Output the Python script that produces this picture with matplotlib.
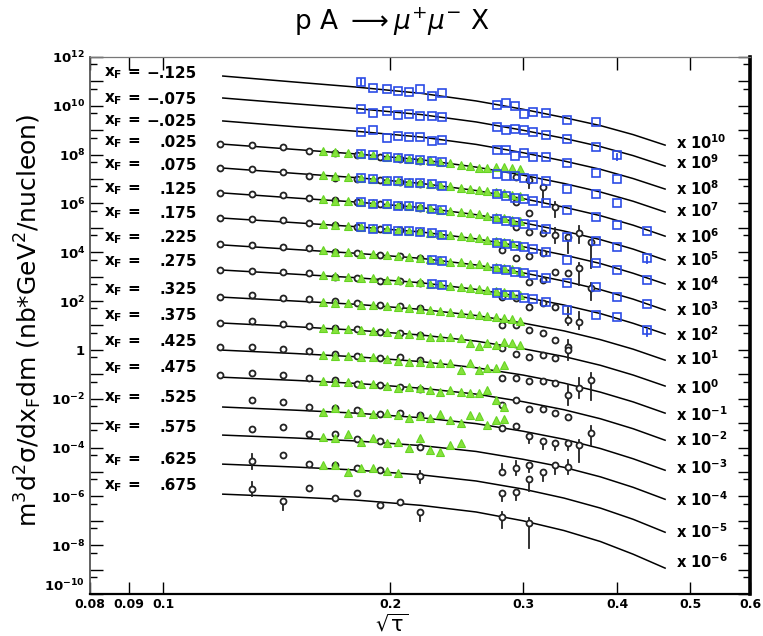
import matplotlib
matplotlib.use("Agg")
import matplotlib.pyplot as plt
import numpy as np
from matplotlib.ticker import FixedLocator, FuncFormatter, NullFormatter

plt.rcParams["font.family"] = ["DejaVu Sans"]
plt.rcParams["mathtext.default"] = "regular"

N = None

# x_F rows, top to bottom; each row is drawn multiplied by 10**scale_exp
xf_values = ["\u2212.125", "\u2212.075", "\u2212.025", ".025", ".075", ".125", ".175",
             ".225", ".275", ".325", ".375", ".425", ".475", ".525", ".575", ".625", ".675"]
scale_exp = [10, 9, 8, 7, 6, 5, 4, 3, 2, 1, 0, -1, -2, -3, -4, -5, -6]

# fitted curves: log10 of m^3 d2sigma/dxF dm (unscaled) at sqrt(tau) = fit_x
fit_x = [0.12, 0.15, 0.18, 0.22, 0.26, 0.30, 0.34, 0.38, 0.42, 0.463]
fit_log = [
    [1.22, 0.97, 0.77, 0.51, 0.20, -0.14, -0.48, -0.81, -1.18, -1.61],
    [1.32, 1.08, 0.89, 0.64, 0.34, 0.00, -0.33, -0.67, -1.04, -1.47],
    [1.38, 1.14, 0.96, 0.72, 0.42, 0.08, -0.26, -0.60, -0.98, -1.41],
    [1.43, 1.21, 1.03, 0.79, 0.49, 0.16, -0.18, -0.53, -0.91, -1.35],
    [1.45, 1.23, 1.06, 0.82, 0.53, 0.20, -0.15, -0.50, -0.89, -1.34],
    [1.43, 1.22, 1.06, 0.83, 0.54, 0.21, -0.13, -0.48, -0.87, -1.32],
    [1.40, 1.21, 1.05, 0.83, 0.55, 0.23, -0.11, -0.46, -0.86, -1.30],
    [1.30, 1.11, 0.96, 0.75, 0.48, 0.16, -0.18, -0.53, -0.92, -1.37],
    [1.27, 1.10, 0.96, 0.75, 0.48, 0.17, -0.16, -0.51, -0.91, -1.35],
    [1.16, 1.00, 0.87, 0.66, 0.41, 0.10, -0.22, -0.58, -0.97, -1.42],
    [1.10, 0.95, 0.81, 0.61, 0.36, 0.05, -0.27, -0.63, -1.03, -1.48],
    [0.99, 0.85, 0.72, 0.52, 0.27, -0.03, -0.36, -0.73, -1.13, -1.59],
    [0.88, 0.75, 0.63, 0.43, 0.19, -0.12, -0.45, -0.82, -1.23, -1.70],
    [0.66, 0.53, 0.41, 0.22, -0.02, -0.33, -0.66, -1.04, -1.46, -1.93],
    [0.51, 0.39, 0.27, 0.08, -0.16, -0.48, -0.81, -1.20, -1.63, -2.12],
    [0.32, 0.20, 0.08, -0.12, -0.37, -0.70, -1.07, -1.48, -1.94, -2.47],
    [0.09, -0.03, -0.15, -0.37, -0.64, -1.00, -1.40, -1.85, -2.37, -2.94],
]

# blue open squares, rows 0..8
blue_x = [0.183, 0.190, 0.198, 0.205, 0.212, 0.219, 0.227, 0.234, 0.277, 0.285,
          0.293, 0.301, 0.309, 0.322, 0.343, 0.375, 0.400, 0.438]
blue_log = [
    [0.96, 0.74, 0.69, 0.62, 0.55, 0.68, 0.41, 0.51, 0.03, 0.10, -0.01, -0.35, -0.27, -0.28, -0.58, -0.65, N, N],
    [0.85, 0.72, 0.80, 0.62, 0.66, 0.57, 0.57, 0.56, 0.12, 0.02, 0.06, 0.00, -0.08, -0.21, -0.36, -0.70, -1.02, N],
    [0.94, 1.01, 0.67, 0.76, 0.71, 0.71, 0.57, 0.60, 0.19, 0.19, -0.06, 0.05, -0.09, -0.11, -0.36, -0.74, -1.01, N],
    [1.01, 0.97, 0.90, 0.88, 0.82, 0.80, 0.72, 0.69, 0.20, 0.13, 0.12, 0.05, 0.00, -0.07, -0.42, -0.63, -0.97, N],
    [1.04, 1.00, 0.93, 0.91, 0.85, 0.83, 0.79, 0.72, 0.37, 0.30, 0.24, 0.19, 0.10, 0.00, -0.27, -0.56, -0.89, -1.13],
    [1.04, 0.98, 0.96, 0.90, 0.88, 0.86, 0.76, 0.73, 0.35, 0.30, 0.24, 0.15, 0.10, -0.05, -0.38, -0.54, -0.79, -1.24],
    [1.03, 0.97, 0.95, 0.89, 0.87, 0.82, 0.78, 0.71, 0.38, 0.33, 0.26, 0.20, 0.12, 0.00, -0.32, -0.44, -0.73, -1.14],
    [N, N, N, N, N, N, 0.70, 0.66, 0.32, 0.28, 0.20, 0.15, 0.06, -0.05, -0.26, -0.43, -0.84, -1.12],
    [N, N, N, N, N, N, 0.70, 0.64, 0.35, 0.27, 0.23, 0.14, 0.10, -0.03, -0.37, -0.57, -0.66, -1.19],
]
# (row, bin): (down, up) error in decades
blue_err = {(0, 0): (0.12, 0.12), (1, 16): (0.2, 0.05), (5, 17): (0.2, 0.05), (8, 17): (0.25, 0.05)}

# green triangles, rows 3..15
green_x = [0.163, 0.169, 0.176, 0.183, 0.190, 0.198, 0.205, 0.212, 0.219, 0.226,
           0.233, 0.240, 0.248, 0.255, 0.262, 0.269, 0.276, 0.283, 0.290, 0.297]
green_log = [
    [1.15, 1.10, 1.08, 1.01, 0.99, 0.92, 0.90, 0.84, 0.80, 0.77, 0.69, 0.66, 0.58, 0.55, 0.47, 0.46, 0.50, 0.49, 0.45, 0.40],
    [1.18, 1.12, 1.10, 1.04, 1.02, 0.95, 0.93, 0.87, 0.85, 0.78, 0.75, 0.70, 0.64, 0.60, 0.56, 0.50, 0.47, 0.42, 0.36, 0.30],
    [1.17, 1.12, 1.10, 1.04, 1.02, 0.96, 0.94, 0.88, 0.84, 0.81, 0.74, 0.71, 0.65, 0.60, 0.56, 0.50, 0.46, 0.42, 0.34, 0.30],
    [1.16, 1.11, 1.09, 1.03, 1.01, 0.95, 0.93, 0.87, 0.86, 0.79, 0.76, 0.69, 0.66, 0.61, 0.57, 0.52, 0.47, 0.43, 0.36, 0.31],
    [1.08, 1.02, 1.00, 0.94, 0.93, 0.87, 0.85, 0.79, 0.78, 0.71, 0.68, 0.62, 0.59, 0.53, 0.50, 0.45, 0.40, 0.36, 0.30, 0.25],
    [1.07, 1.01, 1.00, 0.94, 0.93, 0.87, 0.85, 0.79, 0.78, 0.71, 0.68, 0.62, 0.58, 0.53, 0.50, 0.45, 0.41, 0.36, 0.31, 0.26],
    [0.97, 0.92, 0.91, 0.85, 0.84, 0.78, 0.76, 0.70, 0.69, 0.62, 0.60, 0.54, 0.51, 0.46, 0.43, 0.38, 0.34, 0.30, 0.25, 0.20],
    [0.91, 0.86, 0.85, 0.80, 0.78, 0.72, 0.65, 0.65, 0.61, 0.52, 0.52, 0.52, 0.48, 0.28, 0.16, 0.28, 0.20, 0.32, 0.28, 0.20],
    [0.81, 0.77, 0.76, 0.71, 0.69, 0.63, 0.54, 0.52, 0.50, 0.46, 0.46, 0.46, 0.17, 0.46, 0.17, 0.25, 0.25, 0.38, N, N],
    [0.72, 0.67, 0.67, 0.62, 0.60, 0.54, 0.43, 0.47, 0.43, 0.35, 0.27, 0.35, 0.27, 0.23, 0.23, 0.35, -0.06, -0.34, N, N],
    [0.45, 0.61, 0.41, 0.45, 0.37, 0.41, 0.33, 0.20, 0.29, 0.20, 0.37, 0.12, 0.00, 0.33, 0.29, -0.08, 0.12, 0.16, N, N],
    [0.43, 0.39, 0.55, 0.22, 0.39, 0.18, 0.22, -0.02, 0.39, -0.10, -0.19, 0.10, 0.18, N, N, N, N, N, N, N],
    [0.28, 0.28, -0.01, 0.16, 0.16, 0.03, -0.05, N, N, N, N, N, N, N, N, N, N, N, N, N],
]
green_rows = list(range(3, 16))

# black open circles, rows 3..16
black_x = [0.119, 0.131, 0.144, 0.156, 0.169, 0.181, 0.194, 0.206, 0.219, 0.231, 0.244,
           0.256, 0.269, 0.281, 0.294, 0.306, 0.319, 0.331, 0.344, 0.356, 0.369]
black_log = [
    [1.43, 1.38, 1.30, 1.13, 1.06, 0.98, 0.92, 0.83, 0.75, N, N, N, N, N, 0.08, -0.04, -0.33, N, N, N, N],
    [1.44, 1.40, 1.30, 1.13, 1.04, 1.00, 0.95, 0.88, 0.80, N, N, N, N, N, 0.06, -0.39, N, -0.15, N, N, N],
    [1.42, 1.38, 1.33, 1.24, 1.15, 1.06, 0.98, 0.90, 0.83, N, N, N, N, N, 0.03, -0.17, -0.21, -0.30, -0.38, -0.21, -0.58],
    [1.39, 1.38, 1.32, 1.19, 1.11, 1.04, 0.97, 0.90, 0.83, N, N, N, N, 0.09, -0.24, -0.16, -0.03, N, N, -0.65, N],
    [1.34, 1.30, 1.20, 1.16, 1.02, 0.98, 0.89, 0.84, 0.75, N, N, N, N, N, N, -0.22, -0.14, 0.19, 0.15, N, -0.47],
    [1.27, 1.24, 1.20, 1.14, 1.00, 0.96, 0.83, 0.83, 0.73, N, N, N, N, 0.16, 0.12, -0.25, -0.08, -0.25, -0.78, -0.86, N],
    [1.18, 1.25, 1.14, 1.07, 1.00, 0.93, 0.84, 0.80, 0.70, N, N, N, N, 0.02, 0.02, -0.19, -0.31, -0.60, -0.89, N, N],
    [1.11, 1.19, 1.06, 0.99, 0.88, 0.84, 0.74, 0.70, 0.61, N, N, N, N, 0.07, -0.17, -0.30, -0.21, -0.34, 0.00, N, N],
    [1.13, 1.13, 1.02, 0.96, 0.83, 0.74, 0.68, 0.72, 0.58, N, N, N, N, -0.16, -0.16, -0.28, -0.28, -0.36, -0.85, -0.57, -0.24],
    [0.97, 1.04, 0.97, 0.83, 0.76, 0.60, 0.56, 0.49, 0.38, N, N, N, N, -0.26, -0.06, -0.43, -0.43, -0.59, -0.75, N, N],
    [N, 0.94, 0.86, 0.66, 0.61, 0.53, 0.37, 0.41, 0.33, N, N, N, N, -0.20, -0.12, -0.53, -0.74, -0.82, -0.82, -0.90, -0.41],
    [N, 0.75, 0.84, 0.55, 0.55, 0.34, 0.26, N, 0.02, N, N, N, N, -1.01, -0.84, -0.72, -1.01, -0.72, -0.80, N, N],
    [N, 0.44, 0.69, 0.32, 0.28, 0.16, 0.07, N, -0.17, N, N, N, N, -0.87, -0.83, -0.30, N, N, N, N, N],
    [N, 0.30, -0.20, 0.34, -0.07, 0.13, -0.36, -0.24, -0.64, N, N, N, N, -0.85, N, -1.10, N, N, N, N, N],
]
black_rows = list(range(3, 17))
black_err = {
    (3, 15): (0.33, 0.1), (3, 16): (0.6, 0.1), (4, 17): (0.4, 0.2),
    (5, 17): (0.3, 0.3), (5, 18): (0.65, 0.1), (5, 19): (0.4, 0.3), (5, 20): (1.05, 0.1),
    (6, 19): (0.7, 0.2), (7, 20): (0.5, 0.2), (8, 18): (0.2, 0.5), (8, 19): (0.3, 0.4),
    (10, 18): (0.4, 0.4), (11, 18): (0.4, 0.4), (11, 19): (0.4, 0.4), (11, 20): (0.8, 0.3),
    (13, 15): (0.3, 0.1), (13, 16): (0.3, 0.1), (13, 17): (0.3, 0.1), (13, 18): (0.3, 0.1),
    (13, 19): (0.7, 0.2), (13, 20): (0.5, 0.3),
    (14, 13): (0.1, 0.35), (14, 14): (0.3, 0.3), (14, 15): (0.3, 0.1), (14, 16): (0.35, 0.1),
    (14, 17): (0.35, 0.1), (14, 18): (0.3, 0.3),
    (15, 1): (0.3, 0.3), (15, 8): (0.3, 0.2), (15, 13): (0.3, 0.1), (15, 14): (0.3, 0.1), (15, 15): (0.5, 0.1),
    (16, 1): (0.3, 0.3), (16, 2): (0.35, 0.1), (16, 8): (0.35, 0.1), (16, 13): (0.45, 0.2), (16, 15): (1.0, 0.2),
}

W, H = 763, 636


def fpos(x, y):
    return x / W, 1 - y / H


fig = plt.figure(figsize=(W / 100, H / 100), dpi=100)
ax = fig.add_axes([90 / W, 1 - 594 / H, 660 / W, 537 / H])
ax.set_xscale("log")
ax.set_yscale("log")
ax.set_xlim(0.08, 0.6)
ax.set_ylim(1e-10, 1e12)


def draw_points(xs, rows, row_ids, err, marker_kw, zorder):
    xs = np.array(xs)
    for vals, k in zip(rows, row_ids):
        lv = np.array(vals, dtype=float)
        y = 10.0 ** (lv + scale_exp[k])
        for (kk, i), (lo, hi) in err.items():
            if kk == k and np.isfinite(lv[i]):
                ax.plot([xs[i], xs[i]], [y[i] * 10 ** -lo, y[i] * 10 ** hi],
                        color=marker_kw.get("mec", "black"), lw=1.3, zorder=zorder - 0.5)
        ax.plot(xs, y, linestyle="none", zorder=zorder, **marker_kw)


for k in range(17):
    ax.plot(fit_x, 10.0 ** (np.array(fit_log[k]) + scale_exp[k]), color="black", lw=1.1, zorder=2)

draw_points(black_x, black_log, black_rows, black_err,
            dict(marker="o", ms=4.3, mfc="white", mec="#222222", mew=1.3), 3)
draw_points(green_x, green_log, green_rows, {},
            dict(marker="^", ms=5.5, mfc="#86e23c", mec="#66d424", mew=0.8), 4)
draw_points(blue_x, blue_log, list(range(9)), blue_err,
            dict(marker="s", ms=5.2, mfc="none", mec="#2b4be6", mew=1.2), 5)

# axes, ticks
ax.xaxis.set_major_locator(FixedLocator([0.08, 0.09, 0.1, 0.2, 0.3, 0.4, 0.5, 0.6]))
ax.xaxis.set_minor_locator(FixedLocator([]))
ax.xaxis.set_major_formatter(FuncFormatter(lambda v, p: ("%g" % v)))
ax.xaxis.set_minor_formatter(NullFormatter())

ax.yaxis.set_major_locator(FixedLocator([10.0 ** e for e in range(-10, 13)]))
ax.yaxis.set_minor_locator(FixedLocator([5 * 10.0 ** e for e in range(-10, 12)]))


def ylab(v, p):
    e = int(round(np.log10(v)))
    if e % 2:
        return ""
    if e == 0:
        return r"$\mathbf{1}$"
    return r"$\mathbf{10^{%d}}$" % e


ax.yaxis.set_major_formatter(FuncFormatter(ylab))
ax.yaxis.set_minor_formatter(NullFormatter())
ax.tick_params(which="both", direction="in", top=True, right=True, labelsize=9.5, width=1.0)
ax.tick_params(which="major", length=9)
ax.tick_params(which="minor", length=5)
ax.tick_params(axis="x", pad=3, labelsize=9)
for lab in ax.get_xticklabels():
    lab.set_fontweight("bold")

# lift the lowest y label so it clears the 0.08 label
fig.canvas.draw()
ax.get_yticklabels()[0].set_verticalalignment("bottom")

ax.spines["right"].set_linewidth(2.6)
ax.spines["left"].set_linewidth(1.3)
ax.spines["left"].set_color("#555555")
ax.spines["bottom"].set_linewidth(1.6)
ax.spines["top"].set_linewidth(0.9)
ax.spines["top"].set_color("#777777")

# row labels
left_y = [73, 99, 121, 142, 165, 189, 213, 238, 262, 290, 316, 342, 368, 398, 427, 460, 486]
right_y = [143, 163, 189, 211, 237, 260, 285, 310, 335, 359, 388, 415, 440, 468, 500, 532, 562]
for k in range(17):
    fig.text(*fpos(104, left_y[k]), r"$\mathbf{x_F}$ =", fontsize=11, fontweight="bold",
             ha="left", va="center")
    fig.text(*fpos(197, left_y[k]), xf_values[k], fontsize=11, fontweight="bold",
             ha="right", va="center")
    fig.text(*fpos(676, right_y[k]), r"$\mathbf{x\ 10^{%d}}$" % scale_exp[k], fontsize=10.5,
             ha="left", va="center")

fig.text(*fpos(392, 22), r"p A $\longrightarrow\mathit{\mu^{+}\mu^{-}}$ X", fontsize=19,
         ha="center", va="center")
fig.text(*fpos(392, 624), r"$\sqrt{\tau}$", fontsize=15, ha="center", va="center")
fig.text(*fpos(28, 320), "m$^3$d$^2$\u03c3/dx$_F$dm (nb*GeV$^2$/nucleon)",
         fontsize=18, rotation=90, ha="center", va="center")

fig.savefig("out.png", dpi=100)
